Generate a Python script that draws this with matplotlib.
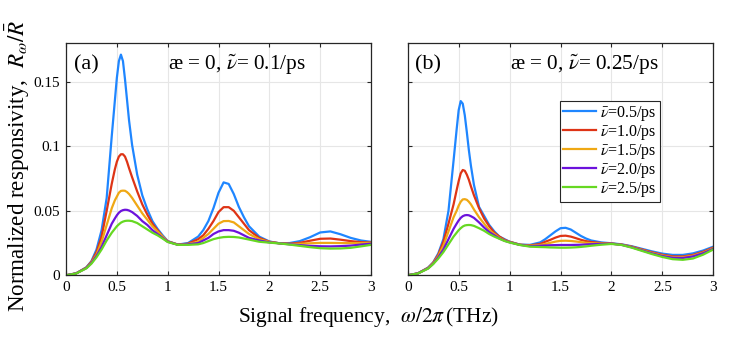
import matplotlib
matplotlib.use("Agg")
import matplotlib.pyplot as plt

plt.rcParams['font.family'] = ['Liberation Serif', 'DejaVu Serif']
plt.rcParams['mathtext.fontset'] = 'stix'

freq = [0, 0.1, 0.2, 0.25, 0.3, 0.35, 0.4, 0.45, 0.48, 0.5,
        0.52, 0.54, 0.56, 0.58, 0.6, 0.62, 0.65, 0.7, 0.75, 0.8,
        0.85, 0.9, 0.95, 1.0, 1.1, 1.2,
        1.3, 1.35, 1.4, 1.45, 1.5, 1.55, 1.6, 1.65, 1.7, 1.75, 1.8,
        1.9, 2.0, 2.1,
        2.2, 2.3, 2.4, 2.5, 2.6, 2.7, 2.8, 2.9, 3.0]

series_labels = [r'$\bar{\nu}$=0.5/ps', r'$\bar{\nu}$=1.0/ps', r'$\bar{\nu}$=1.5/ps',
                 r'$\bar{\nu}$=2.0/ps', r'$\bar{\nu}$=2.5/ps']
colors = ['#1f86ff', '#de3416', '#efa814', '#6c12dc', '#66d822']

# panel (a): nu_tilde = 0.1/ps
a_blue = [0, 0.0015, 0.0062, 0.011, 0.020, 0.035, 0.060, 0.108, 0.135, 0.153,
          0.166, 0.171, 0.166, 0.152, 0.136, 0.120, 0.101, 0.078, 0.062, 0.051,
          0.042, 0.036, 0.031, 0.0265, 0.0238, 0.0250,
          0.030, 0.035, 0.042, 0.052, 0.064, 0.0720, 0.0708, 0.063, 0.053, 0.045, 0.038,
          0.030, 0.0262, 0.0248,
          0.0250, 0.0265, 0.0295, 0.0332, 0.0340, 0.0318, 0.0290, 0.0270, 0.0259]
a_red = [0, 0.0015, 0.0060, 0.0105, 0.018, 0.030, 0.050, 0.071, 0.082, 0.088,
         0.092, 0.0938, 0.0938, 0.092, 0.088, 0.083, 0.076, 0.065, 0.055, 0.047,
         0.040, 0.035, 0.030, 0.0263, 0.0238, 0.0245,
         0.028, 0.031, 0.036, 0.042, 0.049, 0.0528, 0.0528, 0.050, 0.045, 0.040, 0.035,
         0.029, 0.0260, 0.0248,
         0.0245, 0.0252, 0.0268, 0.0283, 0.0285, 0.0276, 0.0265, 0.0257, 0.0254]
a_orange = [0, 0.0015, 0.0058, 0.0100, 0.016, 0.026, 0.039, 0.052, 0.058, 0.061,
            0.064, 0.0654, 0.0656, 0.0655, 0.0645, 0.063, 0.060, 0.054, 0.048, 0.043,
            0.038, 0.034, 0.030, 0.0262, 0.0238, 0.0242,
            0.026, 0.029, 0.032, 0.036, 0.040, 0.0420, 0.0421, 0.041, 0.038, 0.035, 0.032,
            0.028, 0.0258, 0.0248,
            0.0242, 0.0244, 0.0248, 0.0251, 0.0251, 0.0250, 0.0249, 0.0250, 0.0252]
a_purple = [0, 0.0015, 0.0056, 0.0095, 0.015, 0.022, 0.031, 0.040, 0.044, 0.0465,
            0.0485, 0.0498, 0.0505, 0.0508, 0.0507, 0.0502, 0.049, 0.046, 0.042, 0.039,
            0.035, 0.032, 0.029, 0.0260, 0.0237, 0.0240,
            0.025, 0.027, 0.029, 0.032, 0.034, 0.0350, 0.0350, 0.0345, 0.033, 0.031, 0.029,
            0.027, 0.0255, 0.0248,
            0.0240, 0.0234, 0.0228, 0.0225, 0.0224, 0.0226, 0.0230, 0.0238, 0.0245]
a_green = [0, 0.0014, 0.0054, 0.009, 0.014, 0.020, 0.027, 0.033, 0.036, 0.038,
           0.0395, 0.0408, 0.0416, 0.0421, 0.0423, 0.0423, 0.0420, 0.0405, 0.038, 0.0355,
           0.033, 0.031, 0.0285, 0.0258, 0.0236, 0.0236,
           0.024, 0.025, 0.0265, 0.028, 0.029, 0.0296, 0.0298, 0.0297, 0.0293, 0.0285, 0.0277,
           0.026, 0.0253, 0.0247,
           0.0238, 0.0228, 0.0218, 0.0210, 0.0207, 0.0208, 0.0213, 0.0224, 0.0236]

# panel (b): nu_tilde = 0.25/ps
b_blue = [0, 0.0015, 0.006, 0.010, 0.017, 0.028, 0.050, 0.089, 0.113, 0.128,
          0.135, 0.133, 0.124, 0.111, 0.097, 0.085, 0.070, 0.053, 0.046, 0.039,
          0.034, 0.030, 0.028, 0.026, 0.0238, 0.0236,
          0.0255, 0.028, 0.031, 0.034, 0.0365, 0.0368, 0.0355, 0.033, 0.0305, 0.0285, 0.0270,
          0.0255, 0.0248, 0.0240,
          0.0225, 0.0205, 0.0185, 0.0168, 0.0158, 0.0158, 0.0170, 0.0192, 0.0222]
b_red = [0, 0.0015, 0.0058, 0.0098, 0.016, 0.026, 0.040, 0.055, 0.066, 0.073,
         0.079, 0.0816, 0.081, 0.078, 0.074, 0.069, 0.062, 0.052, 0.044, 0.038,
         0.033, 0.030, 0.0275, 0.026, 0.0237, 0.0232,
         0.0243, 0.026, 0.0275, 0.0292, 0.0305, 0.0307, 0.030, 0.0288, 0.0275, 0.0265, 0.0258,
         0.0250, 0.0246, 0.0238,
         0.0222, 0.0200, 0.0178, 0.0159, 0.0147, 0.0146, 0.0158, 0.0182, 0.0215]
b_orange = [0, 0.0015, 0.0056, 0.0094, 0.015, 0.023, 0.034, 0.045, 0.050, 0.054,
            0.057, 0.0588, 0.0590, 0.0585, 0.057, 0.055, 0.051, 0.045, 0.040, 0.035,
            0.032, 0.029, 0.027, 0.0258, 0.0237, 0.0229,
            0.0235, 0.0243, 0.0252, 0.0261, 0.0267, 0.0268, 0.0266, 0.0262, 0.0257, 0.0252, 0.0249,
            0.0246, 0.0245, 0.0237,
            0.0219, 0.0196, 0.0173, 0.0154, 0.0141, 0.0140, 0.0152, 0.0176, 0.0210]
b_purple = [0, 0.0015, 0.0054, 0.009, 0.014, 0.020, 0.028, 0.036, 0.040, 0.0425,
            0.0445, 0.0458, 0.0465, 0.0467, 0.0465, 0.0458, 0.0445, 0.041, 0.037, 0.0335,
            0.031, 0.0285, 0.0268, 0.0256, 0.0236, 0.0226,
            0.0229, 0.0231, 0.0233, 0.0234, 0.0235, 0.0235, 0.0235, 0.0236, 0.0237, 0.0239, 0.0241,
            0.0243, 0.0245, 0.0236,
            0.0217, 0.0193, 0.0169, 0.0149, 0.0136, 0.0134, 0.0146, 0.0171, 0.0205]
b_green = [0, 0.0014, 0.0052, 0.0087, 0.013, 0.018, 0.024, 0.030, 0.033, 0.035,
           0.0365, 0.0378, 0.0386, 0.0389, 0.0390, 0.0389, 0.0383, 0.0365, 0.0345, 0.032,
           0.030, 0.0283, 0.0266, 0.0254, 0.0235, 0.0222,
           0.0219, 0.0218, 0.0216, 0.0215, 0.0214, 0.0214, 0.0215, 0.0217, 0.0220, 0.0224, 0.0229,
           0.0237, 0.0243, 0.0235,
           0.0214, 0.0189, 0.0164, 0.0142, 0.0125, 0.0120, 0.0130, 0.0160, 0.0200]

xticks = [0, 0.5, 1, 1.5, 2, 2.5, 3]
xticklabels = ['0', '0.5', '1', '1.5', '2', '2.5', '3']
yticks = [0, 0.05, 0.1, 0.15]
yticklabels = ['0', '0.05', '0.1', '0.15']

panels = [
    ('(a)', r'æ = 0, $\tilde{\nu}$= 0.1/ps', [a_blue, a_red, a_orange, a_purple, a_green]),
    ('(b)', r'æ = 0, $\tilde{\nu}$= 0.25/ps', [b_blue, b_red, b_orange, b_purple, b_green]),
]

fig = plt.figure(figsize=(7.36, 3.48), dpi=100)
axes_pos = [[0.0897, 0.2089, 0.4144, 0.6675], [0.5540, 0.2089, 0.4152, 0.6675]]
edge = '#262626'

for i, (tag, title, data) in enumerate(panels):
    ax = fig.add_axes(axes_pos[i])
    for ys, c, lab in zip(data, colors, series_labels):
        ax.plot(freq, ys, color=c, lw=1.6, label=lab)
    ax.set_xlim(0, 3)
    ax.set_ylim(0, 0.18)
    ax.set_xticks(xticks)
    ax.set_xticklabels(xticklabels)
    ax.set_yticks(yticks)
    if i == 0:
        ax.set_yticklabels(yticklabels)
    else:
        ax.set_yticklabels([])
    ax.grid(True, color='#e6e6e6', lw=0.8)
    ax.set_axisbelow(True)
    ax.tick_params(direction='in', top=True, right=True, length=3, width=0.8,
                   labelsize=11, colors=edge, pad=4)
    ax.tick_params(labelcolor='black')
    for s in ax.spines.values():
        s.set_color(edge)
        s.set_linewidth(0.9)
    ax.text(0.025, 0.905, tag, transform=ax.transAxes, fontsize=16, va='center', ha='left')
    ax.text(0.334, 0.905, title, transform=ax.transAxes,
            fontsize=15.3, va='center', ha='left')
    if i == 0:
        ax.set_ylabel(r'Normalized responsivity,  $R_\omega/\bar{R}$', fontsize=16.6)
        ax.yaxis.set_label_coords(-0.112, 0.47)
    else:
        leg = ax.legend(loc='upper right', bbox_to_anchor=(0.826, 0.752), fontsize=11.5,
                        handlelength=2.1, handletextpad=0.25, borderpad=0.2,
                        labelspacing=0.0, fancybox=False, framealpha=1,
                        edgecolor=edge, borderaxespad=0)
        leg.get_frame().set_linewidth(0.8)

fig.text(0.5, 0.09, r'Signal frequency,  $\omega/2\pi\,$(THz)', fontsize=15.5,
         ha='center', va='center')

fig.savefig('out.png', dpi=100)
